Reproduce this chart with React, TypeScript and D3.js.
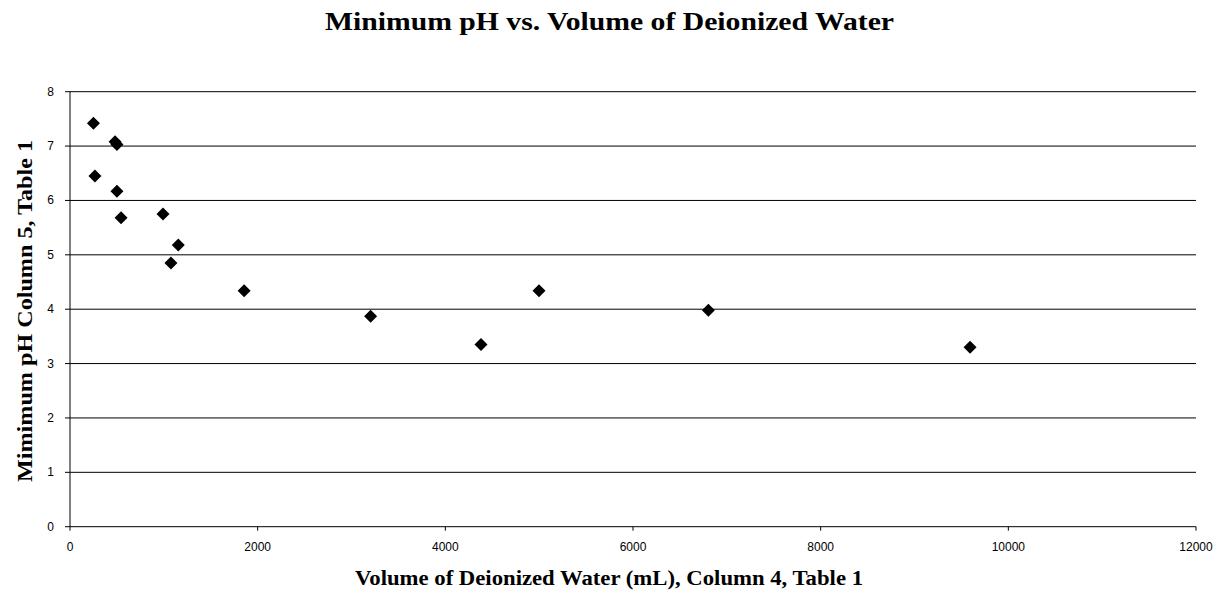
import React from "react";
import * as d3 from "d3";

const volumes = [250, 266, 480, 500, 500, 544, 991, 1076, 1154, 1856, 3204, 4380, 4998, 6803, 9592];
const minPH = [7.42, 6.45, 7.08, 7.03, 6.17, 5.68, 5.75, 4.85, 5.18, 4.34, 3.87, 3.35, 4.34, 3.98, 3.30];
const xTicks = [0, 2000, 4000, 6000, 8000, 10000, 12000];
const yTicks = [0, 1, 2, 3, 4, 5, 6, 7, 8];

const title = "Minimum pH vs. Volume of Deionized Water";
const xLabel = "Volume of Deionized Water (mL), Column 4, Table 1";
const yLabel = "Mimimum pH Column 5, Table 1";

export default function App() {
  const W = 1217, H = 591;
  const left = 70, right = 1196, top = 91.7, bottom = 526.7;
  const x = d3.scaleLinear().domain([0, 12000]).range([left, right]);
  const y = d3.scaleLinear().domain([0, 8]).range([bottom, top]);
  const serif = "'Liberation Serif', 'Times New Roman', serif";
  const sans = "'Liberation Sans', Arial, sans-serif";
  const r = 6.5;
  return (
    <svg width={W} height={H} style={{ position: "absolute", left: 0, top: 0, background: "#fff" }}>
      <rect width={W} height={H} fill="#fff" />
      <text x={609.5} y={30} textAnchor="middle" fontFamily={serif} fontWeight="bold" fontSize={26} fill="#000" textLength={569} lengthAdjust="spacingAndGlyphs">{title}</text>
      {yTicks.map((t) => (
        <g key={"y" + t}>
          <line x1={left - 5} x2={right} y1={y(t)} y2={y(t)} stroke="#000" strokeWidth={1} />
          <text x={54} y={y(t) + 4} textAnchor="end" fontFamily={sans} fontSize={12} fill="#000">{t}</text>
        </g>
      ))}
      <line x1={left} x2={left} y1={top} y2={bottom} stroke="#000" strokeWidth={1} />
      {xTicks.map((t) => (
        <g key={"x" + t}>
          <line x1={x(t)} x2={x(t)} y1={bottom} y2={bottom + 4} stroke="#000" strokeWidth={1} />
          <text x={x(t)} y={551} textAnchor="middle" fontFamily={sans} fontSize={12} fill="#000">{t}</text>
        </g>
      ))}
      {volumes.map((v, i) => {
        const cx = x(v), cy = y(minPH[i]);
        return <path key={i} d={`M${cx},${cy - r}L${cx + r},${cy}L${cx},${cy + r}L${cx - r},${cy}Z`} fill="#000" />;
      })}
      <text x={609} y={585} textAnchor="middle" fontFamily={serif} fontWeight="bold" fontSize={20} fill="#000" textLength={508} lengthAdjust="spacingAndGlyphs">{xLabel}</text>
      <text transform={`translate(32,311) rotate(-90)`} textAnchor="middle" fontFamily={serif} fontWeight="bold" fontSize={20} fill="#000" textLength={342} lengthAdjust="spacingAndGlyphs">{yLabel}</text>
    </svg>
  );
}
